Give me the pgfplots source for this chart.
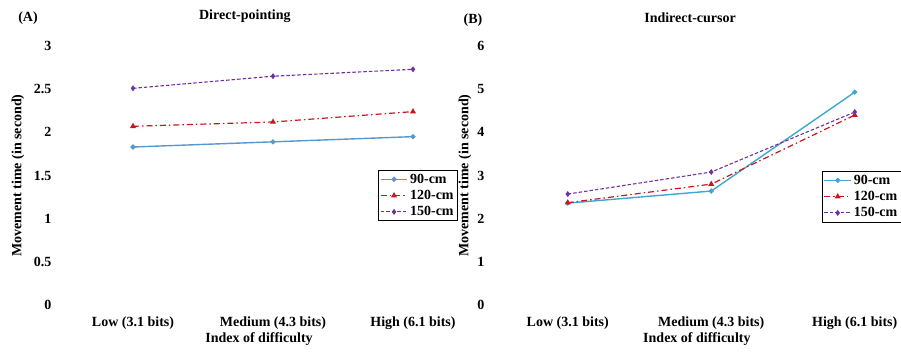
\documentclass[border=0pt]{standalone}
\usepackage{fontspec}
\setmainfont{Liberation Serif}
\usepackage{pgfplots}
\pgfplotsset{compat=1.18}
\definecolor{cblueA}{HTML}{5598D2}
\definecolor{cblueB}{HTML}{3FA6CF}
\definecolor{cred}{HTML}{C8171E}
\definecolor{cpurple}{HTML}{7030A0}
\pgfplotsset{
  myax/.style={
    scale only axis,
    axis line style={draw=none},
    major tick length=0pt,
    xtick={0,1,2},
    xticklabels={Low (3.1 bits),Medium (4.3 bits),High (6.1 bits)},
    xmin=-0.5, xmax=2.3,
    ymin=0,
    /pgf/number format/assume math mode=true,
    ticklabel style={font=\bfseries\fontsize{14}{16}\selectfont},
    xticklabel style={yshift=-8pt},
    yticklabel style={xshift=-8pt},
    xlabel={Index of difficulty},
    xlabel style={font=\bfseries\fontsize{14}{16}\selectfont, yshift=4pt},
    ylabel={Movement time (in second)},
    ylabel style={font=\bfseries\fontsize{14}{16}\selectfont},
    title style={font=\bfseries\fontsize{14}{16}\selectfont},
    legend cell align=left,
    legend style={font=\bfseries\fontsize{14}{16}\selectfont, draw=black, line width=0.6pt,
      inner sep=1.5pt, row sep=1.5pt, anchor=north west},
    legend image code/.code={\draw[mark repeat=2,mark phase=2,##1] plot coordinates {(0cm,0cm) (0.47cm,0cm) (0.94cm,0cm)};},
    clip=false,
  },
  s90/.style={line width=1.4pt, mark=*, mark size=1.8pt, solid},
  s120/.style={color=cred, line width=1.2pt, mark=triangle*, mark size=2.3pt, dash pattern=on 6pt off 3pt on 1.5pt off 3pt, mark options={solid}},
  s150/.style={color=cpurple, line width=1.1pt, mark=diamond*, mark size=2.1pt, dash pattern=on 3.5pt off 2pt, mark options={solid}},
}
\begin{document}
\begin{tikzpicture}
\path[use as bounding box] (0pt,0pt) rectangle (901pt,351pt);
% Panel A
\begin{axis}[myax, at={(63pt,46pt)}, anchor=south west, width=392pt, height=259pt,
  ymax=3, ytick={0,0.5,1,1.5,2,2.5,3},
  ylabel style={at={(axis description cs:-0.115,0.5)}, anchor=center},
  title={Direct-pointing},
  title style={at={(axis description cs:0.464,1)}, anchor=south, yshift=14pt},
  legend style={at={(axis description cs:0.804,0.521)}},
]
\addplot[s90, color=cblueA] coordinates {(0,1.83) (1,1.89) (2,1.95)};
\addlegendentry{90-cm}
\addplot[s120] coordinates {(0,2.07) (1,2.12) (2,2.24)};
\addlegendentry{120-cm}
\addplot[s150] coordinates {(0,2.51) (1,2.65) (2,2.73)};
\addlegendentry{150-cm}
\end{axis}
\node[font=\bfseries\fontsize{14}{16}\selectfont] at (28pt,333pt) {(A)};
% Panel B
\begin{axis}[myax, at={(496pt,46pt)}, anchor=south west, width=401.8pt, height=259pt,
  ymax=6, ytick={0,1,2,3,4,5,6},
  ylabel style={at={(axis description cs:-0.077,0.5)}, anchor=center},
  title={Indirect-cursor},
  title style={at={(axis description cs:0.483,1)}, anchor=south, yshift=14pt},
  legend style={at={(axis description cs:0.811,0.517)}},
]
\addplot[s90, color=cblueB] coordinates {(0,2.36) (1,2.64) (2,4.93)};
\addlegendentry{90-cm}
\addplot[s120] coordinates {(0,2.37) (1,2.80) (2,4.40)};
\addlegendentry{120-cm}
\addplot[s150] coordinates {(0,2.57) (1,3.08) (2,4.47)};
\addlegendentry{150-cm}
\end{axis}
\node[font=\bfseries\fontsize{14}{16}\selectfont] at (473pt,331pt) {(B)};
\end{tikzpicture}
\end{document}
